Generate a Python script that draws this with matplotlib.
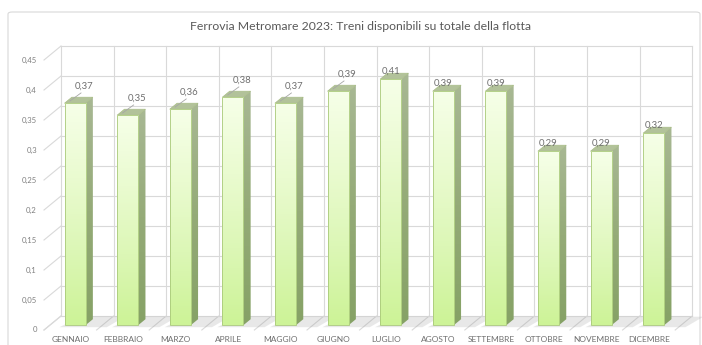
import numpy as np
import matplotlib.pyplot as plt
from matplotlib.patches import Polygon, FancyBboxPatch
from matplotlib.colors import LinearSegmentedColormap

plt.rcParams['font.family'] = ['Lato', 'DejaVu Sans']

# Treni disponibili su totale della flotta, per mese (2023)
mesi = ["GENNAIO", "FEBBRAIO", "MARZO", "APRILE", "MAGGIO", "GIUGNO",
        "LUGLIO", "AGOSTO", "SETTEMBRE", "OTTOBRE", "NOVEMBRE", "DICEMBRE"]
disponibili = [0.37, 0.35, 0.36, 0.38, 0.37, 0.39,
               0.41, 0.39, 0.39, 0.29, 0.29, 0.32]
tick_valori = [0, 0.05, 0.1, 0.15, 0.2, 0.25, 0.3, 0.35, 0.4, 0.45]
titolo = "Ferrovia Metromare 2023: Treni disponibili su totale della flotta"


def it(v):
    # decimal comma, no trailing zeros
    return ("%g" % v).replace(".", ",")


# pseudo-3D geometry: one category = PX_X pixels, one unit = PX_Y pixels
PX_X, PX_Y = 52.6, 600.0
DX, DY = 17 / PX_X, 14 / PX_Y          # depth offset of the back wall
VMAX = 0.45
BAR_X0, BAR_X1 = 0.28, 0.68            # bar footprint inside its category
BAR_D0, BAR_D1 = 0.34, 0.77            # bar depth (0 = front, 1 = back wall)


def proj(x, v, d):
    return (x + d * DX, v + d * DY)


def px(dx=0.0, dy=0.0):
    return dx / PX_X, dy / PX_Y


fig = plt.figure(figsize=(7.02, 3.45), dpi=100, facecolor="white")
ax = fig.add_axes([0, 0, 1, 1])
ax.axis("off")

# chart frame
fig.patches.append(FancyBboxPatch((8 / 702, -0.1), 692 / 702, 1.1 - 12 / 345,
                                  boxstyle="round,pad=0,rounding_size=0.006",
                                  transform=fig.transFigure, fc="none",
                                  ec="#d9d9d9", lw=0.8, zorder=-1))

grid_c = "#d9d9d9"
n = len(mesi)

# back wall grid
for v in tick_valori:
    a, b = proj(0, v, 1), proj(n, v, 1)
    ax.plot([a[0], b[0]], [a[1], b[1]], color=grid_c, lw=0.8, zorder=1)
    # diagonal ticks on the side
    c = proj(0, v, 0)
    ax.plot([c[0], a[0]], [c[1], a[1]], color=grid_c, lw=0.8, zorder=1)
for i in range(n + 1):
    a, b = proj(i, 0, 1), proj(i, VMAX, 1)
    ax.plot([a[0], b[0]], [a[1], b[1]], color=grid_c, lw=0.8, zorder=1)
    # floor diagonals
    c = proj(i, 0, 0)
    ax.plot([c[0], a[0]], [c[1], a[1]], color=grid_c, lw=0.8, zorder=1)

front_cmap = LinearSegmentedColormap.from_list(
    "front", ["#cdf397", "#dcf7b6", "#eafbd0", "#f6ffe8"])
side_cmap = LinearSegmentedColormap.from_list(
    "side", ["#86a266", "#95ab78", "#a8b894"])
grad = np.linspace(0, 1, 128).reshape(-1, 1)

for i, v in enumerate(disponibili):
    x0, x1 = i + BAR_X0, i + BAR_X1

    # floor shadow
    sh = [proj(x0 - 0.05, 0, 0.2), proj(x1 + 0.45, 0, 0.2),
          proj(x1 + 0.55, 0, 0.95), proj(x0 + 0.1, 0, 0.95)]
    ax.add_patch(Polygon(sh, closed=True, fc="#9a9a9a", ec="none",
                         alpha=0.22, zorder=2))

    # side face
    side = [proj(x1, 0, BAR_D0), proj(x1, 0, BAR_D1),
            proj(x1, v, BAR_D1), proj(x1, v, BAR_D0)]
    sp = Polygon(side, closed=True, fc="none", ec="none", zorder=3)
    ax.add_patch(sp)
    xs = [p[0] for p in side]
    ys = [p[1] for p in side]
    im = ax.imshow(grad, cmap=side_cmap, origin="lower", aspect="auto",
                   extent=[min(xs), max(xs), min(ys), max(ys)], zorder=3)
    im.set_clip_path(sp)

    # top face
    top = [proj(x0, v, BAR_D0), proj(x1, v, BAR_D0),
           proj(x1, v, BAR_D1), proj(x0, v, BAR_D1)]
    ax.add_patch(Polygon(top, closed=True, fc="#b2c29a", ec="#a9bd86",
                         lw=0.5, zorder=4))

    # front face
    fx0, fy0 = proj(x0, 0, BAR_D0)
    fx1, fy1 = proj(x1, v, BAR_D0)
    ax.imshow(grad, cmap=front_cmap, origin="lower", aspect="auto",
              extent=[fx0, fx1, fy0, fy1], zorder=5)
    ax.add_patch(Polygon([(fx0, fy0), (fx1, fy0), (fx1, fy1), (fx0, fy1)],
                         closed=True, fc="none", ec="#a9c97a", lw=0.6,
                         zorder=6))

    # value labels
    cx = (fx0 + fx1) / 2
    if i < 6:
        s0, s1, lab = px(-5, 2.3), px(6, 10.3), px(9, 16.6)
        ax.plot([cx + s0[0], cx + s1[0]], [fy1 + s0[1], fy1 + s1[1]],
                color="#a6a6a6", lw=0.6, zorder=7)
    else:
        lab = px(0, 8)
    ax.text(cx + lab[0], fy1 + lab[1], it(v), ha="center", va="center",
            fontsize=6.8, color="#6f6f6f", zorder=8)

# axis labels
for v in tick_valori:
    ax.text(-7 / PX_X, v, it(v), ha="right", va="center",
            fontsize=5.6, color="#7f7f7f")
for i, m in enumerate(mesi):
    ax.text(i + 0.5, -9 / PX_Y, m, ha="center", va="center",
            fontsize=6.0, color="#6f6f6f")

fig.text(360.5 / 702, 1 - 27 / 345, titolo, ha="center", va="center",
         fontsize=8.8, color="#595959")

ax.set_xlim(-44 / PX_X, (702 - 44) / PX_X)
ax.set_ylim(-(345 - 330) / PX_Y, 330 / PX_Y)

fig.savefig("out.png", dpi=100, facecolor="white")
